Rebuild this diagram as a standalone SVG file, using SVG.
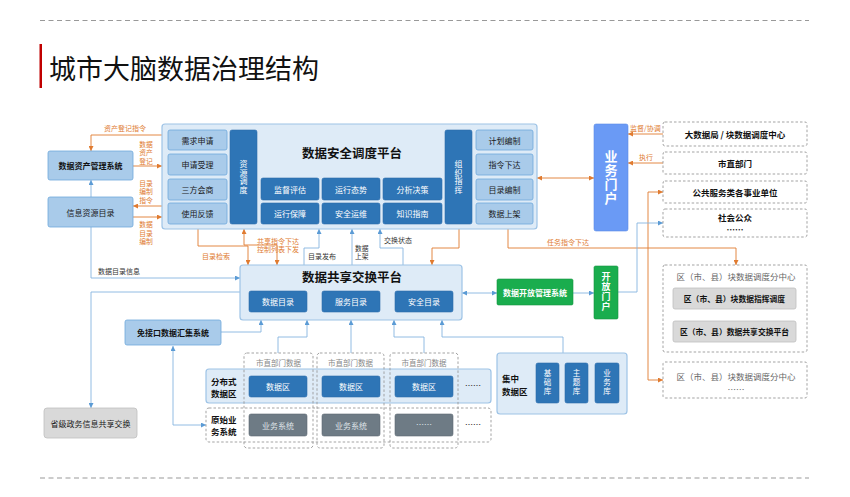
<svg xmlns="http://www.w3.org/2000/svg" width="850" height="497" viewBox="0 0 850 497">
<defs>
<style>
text{font-family:"Noto Sans CJK SC","Noto Sans",sans-serif;dominant-baseline:central}
.c{text-anchor:middle}
.v{writing-mode:vertical-rl;text-anchor:middle}
.plat{fill:#deebf7;stroke:#9dc3e6;stroke-width:1.2}
.lbox{fill:#a9cbea;stroke:#6fa8dc;stroke-width:0.8}
.dbox{fill:#2e75b6;stroke:#2b6cad;stroke-width:0.6}
.dash{fill:#fff;stroke:#999;stroke-width:0.9;stroke-dasharray:2.5 2}
.dashn{fill:none;stroke:#999;stroke-width:0.9;stroke-dasharray:2.5 2}
.gbox{fill:#d9d9d9;stroke:#bfbfbf;stroke-width:0.8}
.sbox{fill:#6e7b85;stroke:#5e6a73;stroke-width:0.6}
.ol{stroke:#e07b30;fill:none;stroke-width:0.9}
.bl{stroke:#86b4e0;fill:none;stroke-width:0.9}
.wt{fill:#fff;font-size:8px}
.dt{fill:#1a1a1a;font-size:8px}
.bt{fill:#111;font-size:8.5px;font-weight:bold}
.ot{fill:#e07b30;font-size:7px}
.gt{fill:#333;font-size:7px}
</style>
<marker id="ao" viewBox="0 0 10 10" refX="10" refY="5" markerWidth="5" markerHeight="5" orient="auto-start-reverse" markerUnits="userSpaceOnUse"><path d="M0,0 L10,5 L0,10 z" fill="#e07b30"/></marker>
<marker id="ab" viewBox="0 0 10 10" refX="10" refY="5" markerWidth="5" markerHeight="5" orient="auto-start-reverse" markerUnits="userSpaceOnUse"><path d="M0,0 L10,5 L0,10 z" fill="#5b9bd5"/></marker>
</defs>
<rect width="850" height="497" fill="#fff"/>

<g id="header">
<line x1="40" y1="20.5" x2="809" y2="20.5" stroke="#999" stroke-dasharray="5 3.5"/>
<line x1="40" y1="478" x2="809" y2="478" stroke="#999" stroke-dasharray="5 3.5"/>
<rect x="39.5" y="44" width="2.5" height="44" fill="#c00000"/>
<text x="49" y="67" style="font-size:27px;fill:#111">城市大脑数据治理结构</text>
</g>

<g id="connectors">
<path class="ol" d="M162,135 H91 V151" marker-end="url(#ao)"/>
<path class="ol" d="M133,166 H162" marker-end="url(#ao)"/>
<path class="ol" d="M162,206 H133" marker-end="url(#ao)"/>
<path class="ol" d="M133,217 H162" marker-end="url(#ao)"/>
<path class="ol" d="M198,229 V246 H248 V265" marker-end="url(#ao)"/>
<path class="ol" d="M277,265 V245 H244 V229" marker-start="url(#ao)" marker-end="url(#ao)"/>
<path class="ol" d="M459,229 V248 H432 V265" marker-end="url(#ao)"/>
<path class="ol" d="M508,229 V248 H736 V265" marker-end="url(#ao)"/>
<path class="ol" d="M663,192 H648 V380 H663" marker-start="url(#ao)" marker-end="url(#ao)"/>
<path class="ol" d="M537,178 H594" marker-start="url(#ao)" marker-end="url(#ao)"/>
<path class="ol" d="M663,134 H628" marker-end="url(#ao)"/>
<path class="ol" d="M663,163 H628" marker-end="url(#ao)"/>

<path class="bl" d="M91,197 V180" marker-end="url(#ab)"/>
<path class="bl" d="M91,227 V278 H240" marker-end="url(#ab)"/>
<path class="bl" d="M240,292 H91 V408" marker-end="url(#ab)"/>
<path class="bl" d="M304,265 V248 H319 V229" marker-end="url(#ab)"/>
<path class="bl" d="M352,265 V229" marker-end="url(#ab)"/>
<path class="bl" d="M403,265 V248 H380 V229" marker-end="url(#ab)"/>
<path class="bl" d="M462,293 H497" marker-start="url(#ab)" marker-end="url(#ab)"/>
<path class="bl" d="M573,293 H594" marker-end="url(#ab)"/>
<path class="bl" d="M618,292 H637 V223 H663" marker-end="url(#ab)"/>
<path class="bl" d="M736,321 V309" marker-end="url(#ab)"/>
<path class="bl" d="M221,332 H261 V320" marker-end="url(#ab)"/>
<path class="bl" d="M278,353 V337 H307 V320" marker-end="url(#ab)"/>
<path class="bl" d="M351,353 V320" marker-end="url(#ab)"/>
<path class="bl" d="M424,353 V337 H394 V320" marker-end="url(#ab)"/>
<path class="bl" d="M563,353 V337 H442 V320" marker-end="url(#ab)"/>
<path class="bl" d="M173,346 V425 H206" marker-start="url(#ab)" marker-end="url(#ab)"/>

<text class="ot" x="104" y="128">资产登记指令</text>
<text class="ot c" x="146" style="font-size:6.8px"><tspan x="146" y="143.5">数据</tspan><tspan x="146" y="152">资产</tspan><tspan x="146" y="160.5">登记</tspan></text>
<text class="ot c" x="146" style="font-size:6.8px"><tspan x="146" y="182.5">目录</tspan><tspan x="146" y="191">编制</tspan><tspan x="146" y="199.5">指令</tspan></text>
<text class="ot c" x="146" style="font-size:6.8px"><tspan x="146" y="224">数据</tspan><tspan x="146" y="232.5">目录</tspan><tspan x="146" y="241">编制</tspan></text>
<text class="gt" x="98" y="271">数据目录信息</text>
<text class="ot" x="202" y="256">目录检索</text>
<text class="ot" x="257" y="240.5">共享指令下达</text>
<text class="ot" x="257" y="249">控制列表下发</text>
<text class="gt" x="308" y="256">目录发布</text>
<text class="gt" x="355" style="font-size:6.8px"><tspan x="355" y="247.5">数据</tspan><tspan x="355" y="256">上架</tspan></text>
<text class="gt" x="384" y="240">交换状态</text>
<text class="ot" x="547" y="242">任务指令下达</text>
<text class="ot" x="630" y="128">监督/协调</text>
<text class="ot" x="639" y="157">执行</text>
</g>

<g id="dispatch-platform">
<rect class="plat" x="162" y="124" width="375" height="105" rx="3"/>
<text class="bt c" x="352" y="152" style="font-size:12.5px">数据安全调度平台</text>
<rect class="lbox" x="168" y="130" width="59" height="20" rx="2"/><text class="dt c" x="197.5" y="140">需求申请</text>
<rect class="lbox" x="168" y="154" width="59" height="21" rx="2"/><text class="dt c" x="197.5" y="164.5">申请受理</text>
<rect class="lbox" x="168" y="179" width="59" height="21" rx="2"/><text class="dt c" x="197.5" y="189.5">三方会商</text>
<rect class="lbox" x="168" y="203" width="59" height="21" rx="2"/><text class="dt c" x="197.5" y="213.5">使用反馈</text>
<rect class="dbox" x="230" y="130" width="27" height="94" rx="2"/>
<text class="wt v" x="243.5" y="177" style="letter-spacing:0.5px">资源调度</text>
<rect class="dbox" x="261" y="178" width="58" height="22" rx="2"/><text class="wt c" x="290" y="189">监督评估</text>
<rect class="dbox" x="322" y="178" width="58" height="22" rx="2"/><text class="wt c" x="351" y="189">运行态势</text>
<rect class="dbox" x="383" y="178" width="59" height="22" rx="2"/><text class="wt c" x="412.5" y="189">分析决策</text>
<rect class="dbox" x="261" y="203" width="58" height="21" rx="2"/><text class="wt c" x="290" y="213.5">运行保障</text>
<rect class="dbox" x="322" y="203" width="58" height="21" rx="2"/><text class="wt c" x="351" y="213.5">安全运维</text>
<rect class="dbox" x="383" y="203" width="59" height="21" rx="2"/><text class="wt c" x="412.5" y="213.5">知识指南</text>
<rect class="dbox" x="445" y="130" width="27" height="94" rx="2"/>
<text class="wt v" x="458.5" y="177" style="letter-spacing:0.5px">组织指挥</text>
<rect class="lbox" x="476" y="130" width="57" height="20" rx="2"/><text class="dt c" x="504.5" y="140">计划编制</text>
<rect class="lbox" x="476" y="154" width="57" height="21" rx="2"/><text class="dt c" x="504.5" y="164.5">指令下达</text>
<rect class="lbox" x="476" y="179" width="57" height="21" rx="2"/><text class="dt c" x="504.5" y="189.5">目录编制</text>
<rect class="lbox" x="476" y="203" width="57" height="21" rx="2"/><text class="dt c" x="504.5" y="213.5">数据上架</text>
</g>

<g id="asset-system">
<rect class="lbox" x="48" y="151" width="85" height="29" rx="2"/>
<text class="bt c" x="90.5" y="165.5" style="font-size:8px">数据资产管理系统</text>
</g>
<g id="resource-catalog">
<rect class="lbox" x="48" y="197" width="85" height="30" rx="2"/>
<text class="dt c" x="90.5" y="212">信息资源目录</text>
</g>

<g id="business-portal">
<rect x="594" y="124" width="34" height="107" rx="2" fill="#6a9af5" stroke="#5b8be6" stroke-width="0.6"/>
<text class="v" x="611" y="178" style="fill:#fff;font-size:13px;font-weight:bold;letter-spacing:1px">业务门户</text>
</g>

<g id="bigdata-bureau"><rect class="dash" x="663" y="122" width="144" height="24" rx="2"/><text class="bt c" x="735" y="134">大数据局 / 块数据调度中心</text></g>
<g id="city-departments"><rect class="dash" x="663" y="152" width="144" height="22" rx="2"/><text class="bt c" x="735" y="163">市直部门</text></g>
<g id="public-services"><rect class="dash" x="663" y="181" width="144" height="22" rx="2"/><text class="bt c" x="735" y="192">公共服务类各事业单位</text></g>
<g id="public"><rect class="dash" x="663" y="209" width="144" height="28" rx="2"/><text class="bt c" x="735" y="217">社会公众</text><text class="bt c" x="735" y="229">……</text></g>

<g id="sharing-platform">
<rect class="plat" x="240" y="265" width="222" height="55" rx="3"/>
<text class="bt c" x="352" y="276" style="font-size:12.5px">数据共享交换平台</text>
<rect class="dbox" x="249" y="291" width="58" height="21" rx="2"/><text class="wt c" x="278" y="301.5">数据目录</text>
<rect class="dbox" x="322" y="291" width="58" height="21" rx="2"/><text class="wt c" x="351" y="301.5">服务目录</text>
<rect class="dbox" x="395" y="291" width="58" height="21" rx="2"/><text class="wt c" x="424" y="301.5">安全目录</text>
</g>

<g id="open-mgmt">
<rect x="497" y="279" width="76" height="26" rx="1.5" fill="#1aad4e" stroke="#15943f" stroke-width="0.6"/>
<text class="c" x="535" y="292" style="fill:#fff;font-size:8px;font-weight:bold">数据开放管理系统</text>
</g>
<g id="open-portal">
<rect x="594" y="266" width="24" height="53" rx="1.5" fill="#1aad4e" stroke="#15943f" stroke-width="0.6"/>
<text class="v" x="606" y="292" style="fill:#fff;font-size:9px;font-weight:bold;letter-spacing:1px">开放门户</text>
</g>

<g id="district-center">
<rect class="dash" x="663" y="265" width="144" height="87" rx="2"/>
<text class="c" x="736" y="276" style="fill:#666;font-size:8.5px">区（市、县）块数据调度分中心</text>
<rect class="gbox" x="673" y="288" width="123" height="21" rx="2"/>
<text class="bt c" x="734.5" y="298.5" style="font-size:7.8px">区（市、县）块数据指挥调度</text>
<rect class="gbox" x="673" y="321" width="123" height="21" rx="2"/>
<text class="bt c" x="734.5" y="331.5" style="font-size:7.8px">区（市、县）数据共享交换平台</text>
</g>
<g id="district-center-2">
<rect class="dash" x="663" y="362" width="144" height="36" rx="2"/>
<text class="c" x="736" y="375.5" style="fill:#666;font-size:8.5px">区（市、县）块数据调度分中心</text>
<text class="c" x="736" y="388.5" style="fill:#666;font-size:8.5px">……</text>
</g>

<g id="no-interface">
<rect class="lbox" x="125" y="320" width="96" height="25" rx="2"/>
<text class="bt c" x="173" y="332.5" style="font-size:8px">免接口数据汇集系统</text>
</g>

<g id="provincial">
<rect class="gbox" x="44" y="408" width="93" height="30" rx="3"/>
<text class="dt c" x="90.5" y="423">省级政务信息共享交换</text>
</g>

<g id="distributed-zone">
<rect class="plat" x="206" y="369" width="285" height="34" rx="3"/>
<text class="bt"><tspan x="211" y="380.5">分布式</tspan><tspan x="211" y="393">数据区</tspan></text>
<rect class="dbox" x="249" y="376" width="58" height="21" rx="2"/><text class="wt c" x="278" y="386.5">数据区</text>
<rect class="dbox" x="322" y="376" width="58" height="21" rx="2"/><text class="wt c" x="351" y="386.5">数据区</text>
<rect class="dbox" x="395" y="376" width="58" height="21" rx="2"/><text class="wt c" x="424" y="386.5">数据区</text>
<text class="dt" x="465" y="385">……</text>
</g>

<g id="raw-systems">
<rect class="dashn" x="206" y="408" width="285" height="34" rx="3"/>
<text class="bt"><tspan x="211" y="418.5">原始业</tspan><tspan x="211" y="431">务系统</tspan></text>
<rect class="sbox" x="249" y="414" width="58" height="22" rx="2"/><text class="c" x="278" y="425" style="fill:#dfe4e8;font-size:8px">业务系统</text>
<rect class="sbox" x="322" y="414" width="58" height="22" rx="2"/><text class="c" x="351" y="425" style="fill:#dfe4e8;font-size:8px">业务系统</text>
<rect class="sbox" x="395" y="414" width="58" height="22" rx="2"/><text class="c" x="424" y="424" style="fill:#dfe4e8;font-size:8px">……</text>
<text class="dt" x="465" y="424">……</text>
</g>

<g id="dept-columns">
<rect class="dashn" x="244" y="353" width="69" height="95" rx="3"/>
<text class="c" x="278.5" y="362" style="fill:#888;font-size:7.5px">市直部门数据</text>
<rect class="dashn" x="317" y="353" width="67" height="95" rx="3"/>
<text class="c" x="350.5" y="362" style="fill:#888;font-size:7.5px">市直部门数据</text>
<rect class="dashn" x="390" y="353" width="68" height="95" rx="3"/>
<text class="c" x="424" y="362" style="fill:#888;font-size:7.5px">市直部门数据</text>
</g>

<g id="central-zone">
<rect class="plat" x="497" y="353" width="130" height="61" rx="3"/>
<text class="bt"><tspan x="502" y="377.5">集中</tspan><tspan x="502" y="391">数据区</tspan></text>
<rect class="dbox" x="536" y="363" width="23" height="40" rx="2"/>
<text class="wt v" x="547.5" y="383" style="font-size:7.5px;letter-spacing:1.5px">基础库</text>
<rect class="dbox" x="565" y="363" width="23" height="40" rx="2"/>
<text class="wt v" x="576.5" y="383" style="font-size:7.5px;letter-spacing:1.5px">主题库</text>
<rect class="dbox" x="595" y="363" width="24" height="40" rx="2"/>
<text class="wt v" x="607" y="383" style="font-size:7.5px;letter-spacing:1.5px">业务库</text>
</g>
</svg>
